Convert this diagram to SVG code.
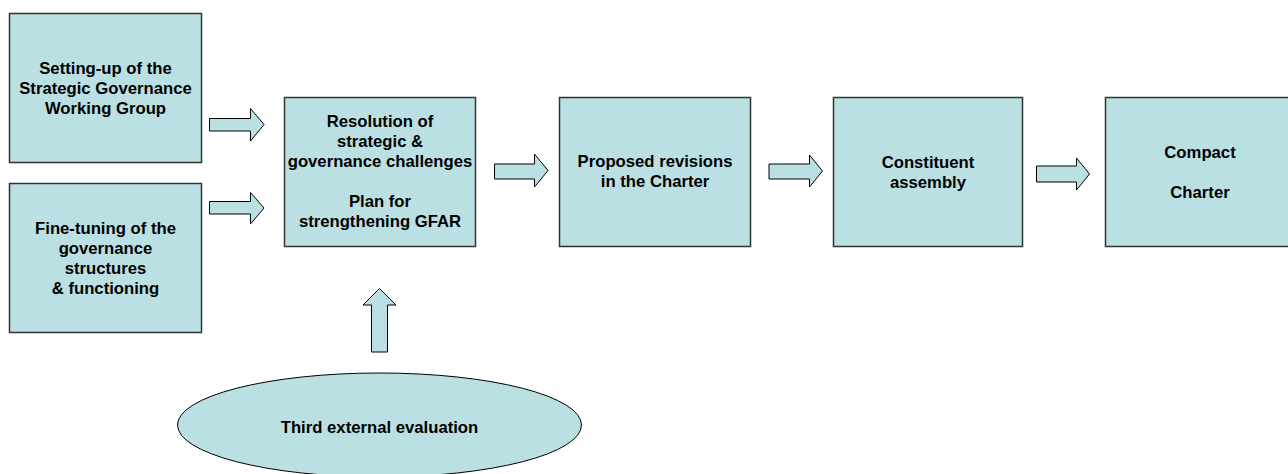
<svg xmlns="http://www.w3.org/2000/svg" width="1288" height="474" viewBox="0 0 1288 474">
<style>
.box{fill:#BBE0E3;stroke:#333333;stroke-width:1.5}
.arr{fill:#BBE0E3;stroke:#000000;stroke-width:1;stroke-linejoin:miter}
text{font-family:"Liberation Sans",Arial,sans-serif;font-weight:bold;font-size:16.7px;fill:#000;text-anchor:middle}
</style>
<rect width="1288" height="474" fill="#ffffff"/>
<g id="connectors">
<polygon class="arr" points="209.5,118.5 250.5,118.5 250.5,108.5 264,124.5 250.5,141 250.5,131 209.5,131"/>
<polygon class="arr" points="209.5,201.5 250.5,201.5 250.5,192.5 264,208 250.5,224 250.5,214 209.5,214"/>
<polygon class="arr" points="494.5,164 534.5,164 534.5,154 548,170.5 534.5,187 534.5,179 494.5,179"/>
<polygon class="arr" points="769,164 809.5,164 809.5,155 822.5,171 809.5,187 809.5,179 769,179"/>
<polygon class="arr" points="1036.5,166 1076.5,166 1076.5,158 1089.5,174 1076.5,190 1076.5,182 1036.5,182"/>
<polygon class="arr" points="371.5,352 371.5,305 363,305 379.5,288.5 396,305 387.5,305 387.5,352"/>
</g>
<g id="node-setup">
<rect class="box" x="9.5" y="13.5" width="192" height="149"/>
<text x="105.5" y="74">Setting-up of the</text>
<text x="105.5" y="94">Strategic Governance</text>
<text x="105.5" y="114">Working Group</text>
</g>
<g id="node-finetuning">
<rect class="box" x="9.5" y="183.5" width="192" height="149"/>
<text x="105.5" y="234">Fine-tuning of the</text>
<text x="105.5" y="254">governance</text>
<text x="105.5" y="274">structures</text>
<text x="105.5" y="294">&amp; functioning</text>
</g>
<g id="node-resolution">
<rect class="box" x="284.5" y="97.5" width="191" height="149"/>
<text x="380" y="127">Resolution of</text>
<text x="380" y="147">strategic &amp;</text>
<text x="380" y="167">governance challenges</text>
<text x="380" y="207">Plan for</text>
<text x="380" y="227">strengthening GFAR</text>
</g>
<g id="node-revisions">
<rect class="box" x="559.5" y="97.5" width="191" height="149"/>
<text x="655" y="167">Proposed revisions</text>
<text x="655" y="187">in the Charter</text>
</g>
<g id="node-assembly">
<rect class="box" x="833.5" y="97.5" width="189" height="149"/>
<text x="928" y="168">Constituent</text>
<text x="928" y="188">assembly</text>
</g>
<g id="node-compact">
<rect class="box" x="1105.5" y="97.5" width="190" height="149"/>
<text x="1200" y="158">Compact</text>
<text x="1200" y="198">Charter</text>
</g>
<g id="node-evaluation">
<ellipse class="arr" cx="379.5" cy="425" rx="202" ry="52"/>
<text x="379.5" y="433">Third external evaluation</text>
</g>
</svg>
